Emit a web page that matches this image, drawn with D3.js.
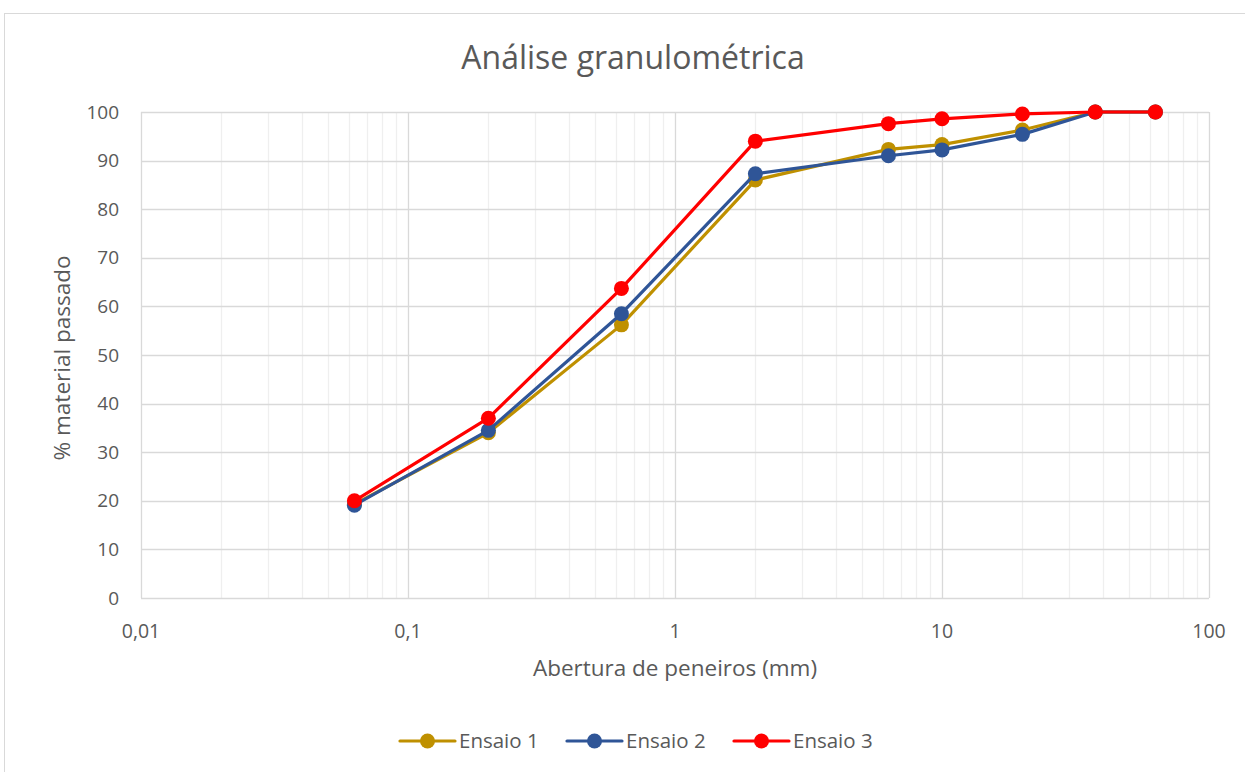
<!DOCTYPE html>
<html>
<head>
<meta charset="utf-8">
<script src="https://cdn.jsdelivr.net/npm/d3@7"></script>
<style>
  body { margin: 0; background: #fff; }
  text { font-family: "Open Sans", "Liberation Sans", sans-serif; fill: #595959; }
</style>
</head>
<body>
<script>
// sieve openings (mm)
const aberturas = [0.063, 0.2, 0.63, 2, 6.3, 10, 20, 37.5, 63];
const ensaio1 = [19.3, 34, 56.2, 86, 92.3, 93.3, 96.3, 100, 100];
const ensaio2 = [19.1, 34.5, 58.5, 87.3, 91, 92.2, 95.4, 100, 100];
const ensaio3 = [20, 37, 63.7, 94, 97.6, 98.6, 99.6, 100, 100];
const seriesNames = ["Ensaio 1", "Ensaio 2", "Ensaio 3"];
const seriesColors = ["#BF9000", "#2F5597", "#FF0000"];
const xTicks = [0.01, 0.1, 1, 10, 100];
const yTicks = [0, 10, 20, 30, 40, 50, 60, 70, 80, 90, 100];

const width = 1245;
const height = 772;
const plotLeft = 141, plotRight = 1209, plotTop = 112, plotBottom = 598;

let svg = d3.select("body")
    .append("svg")
    .attr("width", width)
    .attr("height", height);

// chart frame
svg.append("rect")
    .attr("x", 4.5).attr("y", 13.5)
    .attr("width", width + 10).attr("height", height + 10)
    .attr("fill", "none")
    .attr("stroke", "#d9d9d9");

let x = d3.scaleLog().domain([0.01, 100]).range([plotLeft, plotRight]);
let y = d3.scaleLinear().domain([0, 100]).range([plotBottom, plotTop]);

// minor vertical gridlines
let minor = [];
for (let d = 0.01; d < 100; d *= 10) {
    for (let k = 2; k <= 9; k++) minor.push(+(d * k).toPrecision(3));
}
svg.append("g").selectAll("line").data(minor).join("line")
    .attr("x1", d => Math.round(x(d)) + 0.5).attr("x2", d => Math.round(x(d)) + 0.5)
    .attr("y1", plotTop).attr("y2", plotBottom)
    .attr("stroke", "#efefef").attr("stroke-width", 1.3);

// major gridlines
svg.append("g").selectAll("line").data(yTicks).join("line")
    .attr("x1", plotLeft).attr("x2", plotRight)
    .attr("y1", d => Math.round(y(d)) + 0.5).attr("y2", d => Math.round(y(d)) + 0.5)
    .attr("stroke", "#d9d9d9").attr("stroke-width", 1.3);
svg.append("g").selectAll("line").data(xTicks).join("line")
    .attr("x1", d => Math.round(x(d)) + 0.5).attr("x2", d => Math.round(x(d)) + 0.5)
    .attr("y1", plotTop).attr("y2", plotBottom)
    .attr("stroke", "#d9d9d9").attr("stroke-width", 1.3);

// axis labels
svg.append("g").selectAll("text").data(yTicks).join("text")
    .attr("x", 119).attr("y", d => y(d))
    .attr("dy", "0.35em")
    .attr("text-anchor", "end")
    .attr("font-size", 19)
    .text(d => d);
svg.append("g").selectAll("text").data(xTicks).join("text")
    .attr("x", d => x(d)).attr("y", 631)
    .attr("dy", "0.35em")
    .attr("text-anchor", "middle")
    .attr("font-size", 19.5)
    .text(d => String(d).replace(".", ","));

// titles
svg.append("text")
    .attr("x", 633).attr("y", 58).attr("dy", "0.35em")
    .attr("text-anchor", "middle").attr("font-size", 32)
    .text("Análise granulométrica");
svg.append("text")
    .attr("x", 675).attr("y", 668).attr("dy", "0.35em")
    .attr("text-anchor", "middle").attr("font-size", 22.5)
    .text("Abertura de peneiros (mm)");
svg.append("text")
    .attr("transform", "translate(62,358) rotate(-90)")
    .attr("dy", "0.35em")
    .attr("text-anchor", "middle").attr("font-size", 22.5)
    .text("% material passado");

// series
const allSeries = [ensaio1, ensaio2, ensaio3];
const line = d3.line()
    .x((d, i) => x(aberturas[i]))
    .y(d => y(d));

allSeries.forEach((values, s) => {
    let g = svg.append("g");
    g.append("path")
        .datum(values)
        .attr("d", line)
        .attr("fill", "none")
        .attr("stroke", seriesColors[s])
        .attr("stroke-width", 3.2)
        .attr("stroke-linejoin", "round");
    g.selectAll("circle").data(values).join("circle")
        .attr("cx", (d, i) => x(aberturas[i]))
        .attr("cy", d => y(d))
        .attr("r", 7.5)
        .attr("fill", seriesColors[s]);
});

// legend
const legendX = [400, 567, 734];
seriesNames.forEach((name, s) => {
    let lx = legendX[s];
    svg.append("line")
        .attr("x1", lx).attr("x2", lx + 55)
        .attr("y1", 741).attr("y2", 741)
        .attr("stroke", seriesColors[s])
        .attr("stroke-width", 3.2)
        .attr("stroke-linecap", "round");
    svg.append("circle")
        .attr("cx", lx + 27.5).attr("cy", 741).attr("r", 7.5)
        .attr("fill", seriesColors[s]);
    svg.append("text")
        .attr("x", lx + 59).attr("y", 741).attr("dy", "0.35em")
        .attr("font-size", 20.5)
        .text(name);
});
</script>
</body>
</html>
